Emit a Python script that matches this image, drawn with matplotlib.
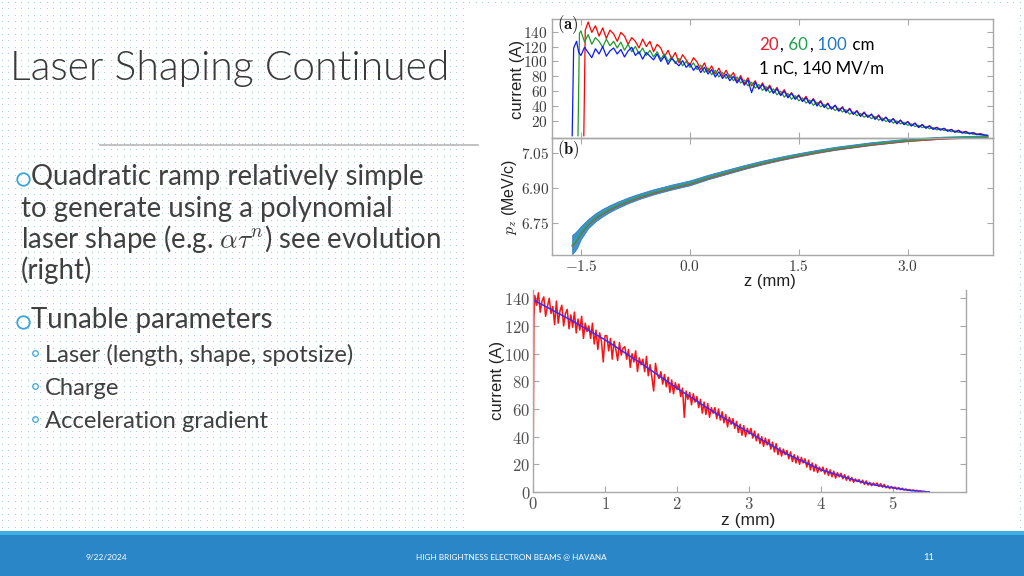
import numpy as np
import matplotlib
matplotlib.use('Agg')
import matplotlib.pyplot as plt
from matplotlib.patches import Rectangle
from matplotlib.ticker import FixedLocator, FuncFormatter

plt.rcParams['mathtext.fontset'] = 'cm'

# ---------------- data ----------------
# panel (a): current (A) vs z (mm) after 20 / 60 / 100 cm (sampled every 0.05 mm)
step_a = 0.05
red_a_lead_z = [-1.46, -1.44]
red_a_lead_I = [0, 142]
red_a_z0 = -1.4
red_a_I = [153, 139, 148, 134, 145, 131, 142, 137, 127, 139,
           134, 123, 132, 127, 118, 130, 120, 127, 113, 123,
           118, 106, 115, 103, 112, 98, 109, 102, 95, 105,
           99, 89, 98, 86, 94, 83, 91, 80, 88, 78,
           85, 73, 81, 70, 78, 67, 74, 63, 71, 62,
           68, 58, 65, 55, 62, 52, 58, 50, 55, 47,
           53, 44, 50, 42, 47, 39, 44, 36, 41, 34,
           39, 31, 37, 29, 34, 27, 32, 25, 29, 23,
           28, 21, 25, 19, 23, 17, 21, 15, 19, 14,
           17, 12, 15, 11, 13.5, 9.5, 11.5, 8.5, 10, 7,
           8.5, 5.5, 7.5, 4.5, 6, 3, 4.5, 2, 3, 1,
           0.5]

green_a_lead_z = [-1.54, -1.52]
green_a_lead_I = [0, 138]
green_a_z0 = -1.5
green_a_I = [141, 126, 136, 123, 132, 127, 119, 130, 121, 127,
             118, 126, 115, 123, 113, 120, 110, 118, 108, 115,
             106, 113, 103, 110, 100, 106, 97, 104, 94, 100,
             92, 98, 89, 95, 85, 91, 82, 88, 79, 85,
             77, 82, 74, 79, 71, 75, 67, 72, 64, 69,
             61, 66, 58, 63, 55, 60, 52, 57, 49, 54,
             47, 51, 44, 48, 41, 45, 39, 42, 36, 39,
             34, 37, 32, 35, 29, 32, 27, 30, 25, 28,
             23, 26, 21, 24, 19, 22, 17, 20, 16, 18,
             14, 16, 12.5, 14, 11, 12.5, 9.5, 11, 8, 9.5,
             7, 8, 5.5, 6.5, 4.5, 5, 3, 4, 2, 2.5,
             1.2, 0.8, 0.3]

blue_a_lead_z = [-1.62, -1.60, -1.56, -1.53]
blue_a_lead_I = [0, 118, 127, 112]
blue_a_z0 = -1.5
blue_a_I = [108, 119, 112, 105, 117, 110, 120, 107, 114, 118,
            110, 116, 106, 114, 119, 108, 113, 103, 112, 107,
            102, 110, 100, 107, 96, 104, 99, 94, 101, 92,
            97, 88, 94, 85, 92, 83, 89, 79, 86, 77,
            83, 74, 80, 71, 78, 68, 75, 58, 72, 63,
            69, 60, 66, 57, 63, 54, 60, 51, 57, 49,
            54, 46, 51, 43, 49, 40, 46, 38, 43, 36,
            41, 33, 38, 31, 36, 29, 33, 26, 31, 25,
            29, 22, 27, 20, 25, 18, 23, 16, 21, 15,
            19, 13, 17, 11, 15, 10, 13, 8.5, 11, 7.5,
            10, 6, 8.5, 4.5, 7, 3.5, 5.5, 2.5, 4, 1.5,
            2, 1, 0.4]

# panel (b): longitudinal momentum band p_z (MeV/c) vs z (mm)
pz_z = [-1.62, -1.58, -1.55, -1.5, -1.4, -1.3, -1.2, -1.1, -1.0, -0.85, -0.7,
        -0.5, -0.25, 0.0, 0.25, 0.5, 0.75, 1.0, 1.25, 1.5, 1.75, 2.0, 2.5,
        3.0, 3.5, 4.0, 4.1]
pz_upper = [6.70, 6.71, 6.72, 6.738, 6.768, 6.793, 6.812, 6.828, 6.842, 6.861,
            6.877, 6.896, 6.916, 6.934, 6.958, 6.979, 7.0, 7.019, 7.036, 7.051,
            7.065, 7.078, 7.098, 7.113, 7.122, 7.126, 7.126]
pz_lower = [6.618, 6.632, 6.647, 6.682, 6.729, 6.758, 6.78, 6.799, 6.815, 6.836,
            6.854, 6.874, 6.895, 6.913, 6.939, 6.961, 6.983, 7.003, 7.021, 7.037,
            7.052, 7.065, 7.086, 7.103, 7.114, 7.12, 7.122]

# bottom chart: current (A) vs z (mm), simulation (red, every 0.025 mm) and target (blue)
red_c_lead_z = [0.0, 0.012]
red_c_lead_I = [0, 125]
red_c_z0 = 0.025
step_c = 0.025
red_c_I = [142, 135, 144, 130, 138, 141, 127, 134, 140, 129,
           134, 121, 138, 122, 131, 135, 120, 129, 132, 118,
           128, 119, 130, 115, 125, 117, 127, 111, 122, 116,
           120, 111, 122, 107, 117, 103, 115, 109, 94, 113,
           113, 102, 111, 96, 109, 103, 95, 108, 99, 104,
           105, 96, 103, 90, 100, 94, 102, 87, 97, 92,
           96, 87, 98, 84, 92, 83, 73, 93, 85, 82,
           87, 78, 85, 76, 83, 72, 81, 71, 79, 74,
           78, 69, 75, 54, 73, 67, 72, 63, 71, 65,
           69, 61, 67, 57, 65, 56, 64, 54, 61, 57,
           61, 53, 60, 52, 58, 50, 56, 47, 54, 49,
           53, 46, 51, 43, 49, 41, 48, 40, 46, 42,
           46, 39, 44, 37, 42, 35, 40, 33, 39, 34,
           38, 31, 36, 29, 35, 27, 32, 26, 31, 27,
           30, 24, 29, 22, 27, 21, 26, 20, 25, 21,
           24, 18, 23, 16, 21, 15, 20, 14, 18, 15,
           18, 13, 17, 12, 16, 11, 15, 10, 14, 11,
           13.5, 9.5, 12.5, 8.5, 11.5, 8, 10.5, 7, 9.5, 7.5,
           9, 6.5, 8.5, 5.5, 8, 5, 7, 4.5, 6.5, 5,
           6.5, 4, 6, 3.5, 5.5, 3, 4.5, 2.5, 4, 2.5,
           3.5, 2, 3.2, 1.7, 2.7, 1.4, 2.2, 1.1, 1.8, 1,
           1.5, 0.8, 1.2, 0.5, 0.9, 0.4, 0.5, 0.2, 0.1, 0]
blue_c_z = [0, 0.5, 1.0, 1.5, 2.0, 2.5, 3.0, 3.5, 4.0, 4.25, 4.5, 4.75, 5.0, 5.25, 5.5]
blue_c_I = [139, 125, 110, 93, 75, 58, 43, 28, 16, 12, 8, 5, 3, 1, 0]

ticks_a_y = [20, 40, 60, 80, 100, 120, 140]
ticks_b_y = [6.75, 6.90, 7.05]
ticks_b_x = [-1.5, 0.0, 1.5, 3.0]
ticks_c_x = [0, 1, 2, 3, 4, 5]
ticks_c_y = [0, 20, 40, 60, 80, 100, 120, 140]

title = 'Laser Shaping Continued'
body_lines = ['Quadratic ramp relatively simple',
              'to generate using a polynomial',
              r'laser shape (e.g. $\alpha\tau^{n}$) see evolution',
              '(right)']
main_bullet2 = 'Tunable parameters'
sub_bullets = ['Laser (length, shape, spotsize)', 'Charge', 'Acceleration gradient']
footer_date = '9/22/2024'
footer_mid = 'HIGH BRIGHTNESS ELECTRON BEAMS @ HAVANA'
footer_page = '11'

# ---------------- figure ----------------
W, H = 1024, 576
fig = plt.figure(figsize=(10.24, 5.76), dpi=100)
renderer = fig.canvas.get_renderer()

bg = fig.add_axes([0, 0, 1, 1])
bg.set_xlim(0, W)
bg.set_ylim(H, 0)
bg.axis('off')

# dotted background
dx = 6.4
gx = np.arange(2, W, dx)
gy = np.arange(2, 530, dx)
GX, GY = np.meshgrid(gx, gy)
mask = ~((GX > 467) & (GX < 1016) & (GY > 8))
bg.scatter(GX[mask], GY[mask], s=0.7, c='#9fd0d6', marker='o', linewidths=0)

# footer
bg.add_patch(Rectangle((0, 532), W, 44, color='#2b86c8', lw=0))
bg.add_patch(Rectangle((0, 531), W, 4, color='#3fb0e6', lw=0))

TXT = '#404040'
BUL = '#3aa6d8'


def fit(t, target_w):
    bb = t.get_window_extent(renderer)
    t.set_fontsize(t.get_fontsize() * target_w / bb.width)
    return t.get_fontsize()


t = bg.text(10, 80, title, fontsize=30, family='Lato', weight=300,
            color='#3a3a3a', va='baseline', ha='left')
fit(t, 438)

bg.plot([100, 478], [145, 145], color='#b8b8b8', lw=1.2)

# body text
t0 = bg.text(31, 185, body_lines[0], fontsize=18, family='Lato', color=TXT,
             va='baseline', ha='left')
fs = fit(t0, 391)
for i, s in enumerate(body_lines[1:]):
    bg.text(21, 185 + 31.5 * (i + 1), s, fontsize=fs, family='Lato', color=TXT,
            va='baseline', ha='left')
bg.text(31, 328, main_bullet2, fontsize=fs, family='Lato', color=TXT,
        va='baseline', ha='left')
bg.plot([22.8, 22.8], [178.5, 321.7], ls='none', marker='o', ms=9, mfc='none',
        mec=BUL, mew=1.3)

ts = bg.text(45, 362, sub_bullets[0], fontsize=15, family='Lato', color=TXT,
             va='baseline', ha='left')
fs2 = fit(ts, 310)
for i, s in enumerate(sub_bullets[1:]):
    bg.text(45, 362 + 33 * (i + 1), s, fontsize=fs2, family='Lato', color=TXT,
            va='baseline', ha='left')
bg.plot([34.5] * 3, [352.5, 385.5, 418.5], ls='none', marker='o', ms=4, mfc='none',
        mec=BUL, mew=0.9)

# footer text
tf = bg.text(86, 557, footer_date, fontsize=7, family='Lato', color='white',
             va='center', ha='left')
fit(tf, 42)
tf = bg.text(416, 557, footer_mid, fontsize=7, family='Lato', color='white',
             va='center', ha='left')
fit(tf, 191)
bg.text(929, 557, footer_page, fontsize=tf.get_fontsize() * 1.15, family='Lato',
        color='white', va='center', ha='center')

# annotation in panel (a)
RED, GRN, BLU = '#e8202a', '#1ea050', '#1f78c8'
pieces = [('20', RED), (',', 'black'), (' 60', GRN), (',', 'black'),
          (' 100', BLU), (' cm', 'black')]
tmp = bg.text(0, 0, '20, 60, 100 cm', fontsize=10, family='Lato')
afs = fit(tmp, 111)
tmp.remove()
x = 759
for s, c in pieces:
    tt = bg.text(x, 50, s, color=c, fontsize=afs, family='Lato', va='baseline', ha='left')
    bb = tt.get_window_extent(renderer)
    x = bb.x1 + 0.8
tt = bg.text(759, 74, '1 nC, 140 MV/m', fontsize=afs, family='Lato', color='black',
             va='baseline', ha='left')


# ---------------- chart axes ----------------
def rect(x0, y0, x1, y1):
    return [x0 / W, 1 - y1 / H, (x1 - x0) / W, (y1 - y0) / H]


def style(ax, size, right=True, top=True):
    for s in ax.spines.values():
        s.set_color('#a8a8a8')
        s.set_linewidth(1.0)
    ax.set_facecolor('none')
    ax.tick_params(direction='in', length=4, width=0.8, color='#a8a8a8',
                   top=top, right=right, labelsize=size, labelcolor='#3c3c3c', pad=3)


fmt_int = FuncFormatter(lambda v, p: r'$%g$' % v)

axa = fig.add_axes(rect(552, 19, 993, 138))
axb = fig.add_axes(rect(552, 138, 993, 255))
for ax in (axa, axb):
    ax.set_xlim(-1.898, 4.174)
    ax.xaxis.set_major_locator(FixedLocator(ticks_b_x))
    style(ax, 11)

axa.set_ylim(-3, 157)
axa.yaxis.set_major_locator(FixedLocator(ticks_a_y))
axa.yaxis.set_major_formatter(fmt_int)
axa.tick_params(labelbottom=False)


def trace(lead_z, lead_I, z0, step, vals):
    z = list(lead_z) + list(z0 + step * np.arange(len(vals)))
    return z, list(lead_I) + list(vals)


for lz, lI, z0, vals, c in [(red_a_lead_z, red_a_lead_I, red_a_z0, red_a_I, '#ff0000'),
                            (green_a_lead_z, green_a_lead_I, green_a_z0, green_a_I, '#1f9a2a'),
                            (blue_a_lead_z, blue_a_lead_I, blue_a_z0, blue_a_I, '#0a1aff')]:
    z, I = trace(lz, lI, z0, step_a, vals)
    axa.plot(z, I, color=c, lw=0.9)

axa.text(0.011, 0.95, r'$\mathbf{(a)}$', transform=axa.transAxes, fontsize=12,
         va='center', ha='left', color='#111111')
axa.set_ylabel('current (A)', family='Liberation Sans', fontsize=12, color='#222222')
axa.yaxis.label.set_va('center')
axa.yaxis.set_label_coords(-0.079, 0.49)

axb.set_ylim(6.614, 7.116)
axb.yaxis.set_major_locator(FixedLocator(ticks_b_y))
axb.yaxis.set_major_formatter(FuncFormatter(lambda v, p: r'$%.2f$' % v))
axb.xaxis.set_major_formatter(FuncFormatter(lambda v, p: r'$%.1f$' % v))
axb.tick_params(axis='y', pad=2)
pz_mid = [(a + b) / 2 for a, b in zip(pz_upper, pz_lower)]
axb.plot(pz_z, [m - 0.006 for m in pz_mid], color='#e03030', lw=1.0, clip_on=False)
axb.plot(pz_z, [m - 0.003 for m in pz_mid], color='#30a050', lw=1.0, clip_on=False)
axb.fill_between(pz_z, pz_lower, pz_upper, color='#3d93cc', lw=0.6,
                 edgecolor='#2f7fb8', clip_on=False)
axb.text(0.011, 0.897, r'$\mathbf{(b)}$', transform=axb.transAxes, fontsize=12,
         va='center', ha='left', color='#111111')
axb.set_ylabel(r'$p_z$ (MeV/c)', family='Liberation Sans', fontsize=11.5, color='#222222')
axb.yaxis.label.set_va('center')
axb.yaxis.set_label_coords(-0.097, 0.496)
axb.set_xlabel('z (mm)', family='Liberation Sans', fontsize=12, color='#222222')
axb.xaxis.label.set_va('center')
axb.xaxis.set_label_coords(0.494, -0.23)

# bottom chart
axc = fig.add_axes(rect(533, 290, 966, 492))
style(axc, 12, right=True, top=False)
axc.spines['top'].set_visible(False)
axc.set_xlim(0, 6.01)
axc.set_ylim(0, 146)
axc.xaxis.set_major_locator(FixedLocator(ticks_c_x))
axc.yaxis.set_major_locator(FixedLocator(ticks_c_y))
axc.xaxis.set_major_formatter(fmt_int)
axc.yaxis.set_major_formatter(fmt_int)
axc.tick_params(labelcolor='#505050', pad=2)
z, I = trace(red_c_lead_z, red_c_lead_I, red_c_z0, step_c, red_c_I)
axc.plot(z, I, color='#ff1010', lw=1.1)
axc.plot(blue_c_z, blue_c_I, color='#3a2cff', lw=1.1)
axc.set_ylabel('current (A)', family='Liberation Sans', fontsize=12, color='#222222')
axc.yaxis.label.set_va('center')
axc.yaxis.set_label_coords(-0.083, 0.55)
axc.set_xlabel('z (mm)', family='Liberation Sans', fontsize=12.5, color='#222222')
axc.xaxis.label.set_va('center')
axc.xaxis.set_label_coords(0.4965, -0.139)

fig.savefig('out.png', dpi=100)
